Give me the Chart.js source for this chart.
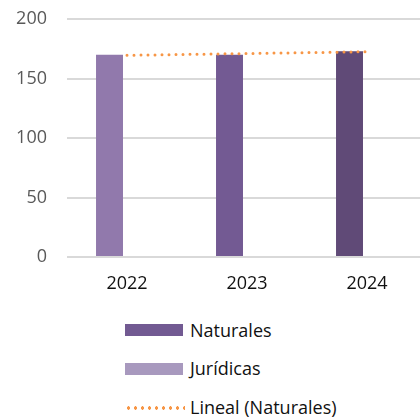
<!DOCTYPE html>
<html>
<head>
<meta charset="utf-8">
<script src="https://cdn.jsdelivr.net/npm/chart.js@4/dist/chart.umd.min.js"></script>
<style>
  html, body { margin: 0; padding: 0; background: #fff; overflow: hidden; }
  #wrap { position: absolute; left: 0; top: 0; width: 420px; height: 300px; overflow: hidden; }
  .leg { position: absolute; left: 125px; font: 18px 'Open Sans', sans-serif; color: #111; line-height: 20px; }
  .leg .box { position: absolute; left: 0; width: 58px; height: 12px; }
  .leg .txt { position: absolute; left: 65px; top: 0; white-space: nowrap; }
  .dots { position: absolute; left: 0; width: 60px; height: 6px;
    background-image: radial-gradient(circle, #F79646 1.5px, transparent 1.9px);
    background-size: 7px 6px; }
</style>
</head>
<body>
<div id="wrap"><canvas id="chart" width="440" height="300"></canvas></div>

<div class="leg" style="top:320px;"><div class="box" style="top:4px;background:#725A92;"></div><div class="txt">Naturales</div></div>
<div class="leg" style="top:358px;"><div class="box" style="top:5px;background:#A899BE;"></div><div class="txt">Jurídicas</div></div>
<div class="leg" style="top:397px;"><div class="dots" style="top:8px;"></div><div class="txt">Lineal (Naturales)</div></div>

<script>
// valores
const years = ['2022', '2023', '2024'];
const naturales = [170, 170, 173];
const juridicas = [null, null, null];
const linealNaturales = [169.5, 171, 172.5];
const barColors = ['#9179AC', '#735A93', '#604A77'];

Chart.defaults.font.family = "'Open Sans', sans-serif";
Chart.defaults.font.size = 18;

const ctx = document.getElementById('chart').getContext('2d');

new Chart(ctx, {
    type: 'bar',
    data: {
        labels: years,
        datasets: [
            {
                type: 'line',
                label: 'Lineal (Naturales)',
                data: linealNaturales,
                borderColor: '#F79646',
                borderWidth: 3,
                borderDash: [0, 7],
                borderCapStyle: 'round',
                pointRadius: 0,
                fill: false,
                order: 0
            },
            {
                label: 'Naturales',
                data: naturales,
                backgroundColor: barColors,
                categoryPercentage: 0.583,
                barPercentage: 0.771,
                order: 1
            },
            {
                label: 'Jurídicas',
                data: juridicas,
                backgroundColor: '#A899BE',
                categoryPercentage: 0.583,
                barPercentage: 0.771,
                order: 1
            }
        ]
    },
    options: {
        responsive: false,
        animation: false,
        layout: { padding: { left: 0, right: 13, top: 19, bottom: 0 } },
        plugins: {
            legend: { display: false },
            tooltip: { enabled: false }
        },
        scales: {
            x: {
                grid: { display: false, drawTicks: false },
                border: { display: false },
                ticks: { color: '#111', padding: 16 },
                afterFit: (scale) => { scale.height = 43; }
            },
            y: {
                min: 0,
                max: 200,
                ticks: { stepSize: 50, color: '#595959', padding: 20 },
                grid: { color: '#D9D9D9', lineWidth: 2, drawTicks: false },
                border: { display: false },
                afterFit: (scale) => {
                    scale.width = 67;
                    scale.paddingTop = 0;
                    scale.paddingBottom = 0;
                }
            }
        }
    }
});
</script>
</body>
</html>
